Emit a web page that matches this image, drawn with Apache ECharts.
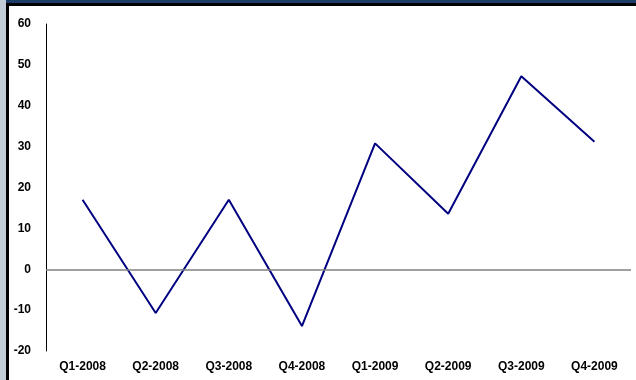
<!DOCTYPE html>
<html>
<head>
<meta charset="utf-8">
<script src="https://cdn.jsdelivr.net/npm/echarts@6/dist/echarts.min.js"></script>
<style>
html,body{margin:0;padding:0;width:636px;height:380px;overflow:hidden;background:#fff;}
#lstrip{position:absolute;left:0;top:0;width:6px;height:380px;background:#c2cdd7;}
#lblack{position:absolute;left:6px;top:3px;width:3px;height:377px;background:#000;}
#tnavy{position:absolute;left:6px;top:0;width:630px;height:3px;background:#1c3d66;}
#tblack{position:absolute;left:6px;top:3px;width:630px;height:3px;background:#000;}
#chart{position:absolute;left:0;top:0;width:636px;height:380px;}
</style>
</head>
<body>
<div id="lstrip"></div>
<div id="tnavy"></div>
<div id="lblack"></div>
<div id="tblack"></div>
<div id="chart"></div>
<script>
const categories = ['Q1-2008','Q2-2008','Q3-2008','Q4-2008','Q1-2009','Q2-2009','Q3-2009','Q4-2009'];
const values = [17, -10.7, 17, -13.9, 30.8, 13.6, 47.2, 31.2];
const yMin = -20, yMax = 60, yStep = 10;

const chart = echarts.init(document.getElementById('chart'), null, {renderer:'canvas'});
chart.setOption({
  animation:false,
  backgroundColor:'transparent',
  grid:{left:46, right:5, top:24, bottom:29, containLabel:false},
  xAxis:{
    type:'category',
    data:categories,
    boundaryGap:true,
    axisLine:{show:false},
    axisTick:{show:false},
    axisLabel:{margin:10, color:'#000', fontWeight:'bold', fontSize:12, fontFamily:'Liberation Sans, Arial, sans-serif', interval:0}
  },
  yAxis:{
    type:'value',
    min:yMin, max:yMax, interval:yStep,
    axisLine:{show:true, lineStyle:{color:'#000', width:1}},
    axisTick:{show:false},
    splitLine:{show:false},
    axisLabel:{margin:15, color:'#000', fontWeight:'bold', fontSize:12, fontFamily:'Liberation Sans, Arial, sans-serif'}
  },
  series:[{
    type:'line',
    data:values,
    symbol:'none',
    lineStyle:{color:'#000080', width:2},
    markLine:{
      silent:true,
      symbol:'none',
      label:{show:false},
      lineStyle:{color:'#808080', type:'solid', width:1.5},
      data:[{yAxis:0}]
    }
  }]
});
</script>
</body>
</html>
